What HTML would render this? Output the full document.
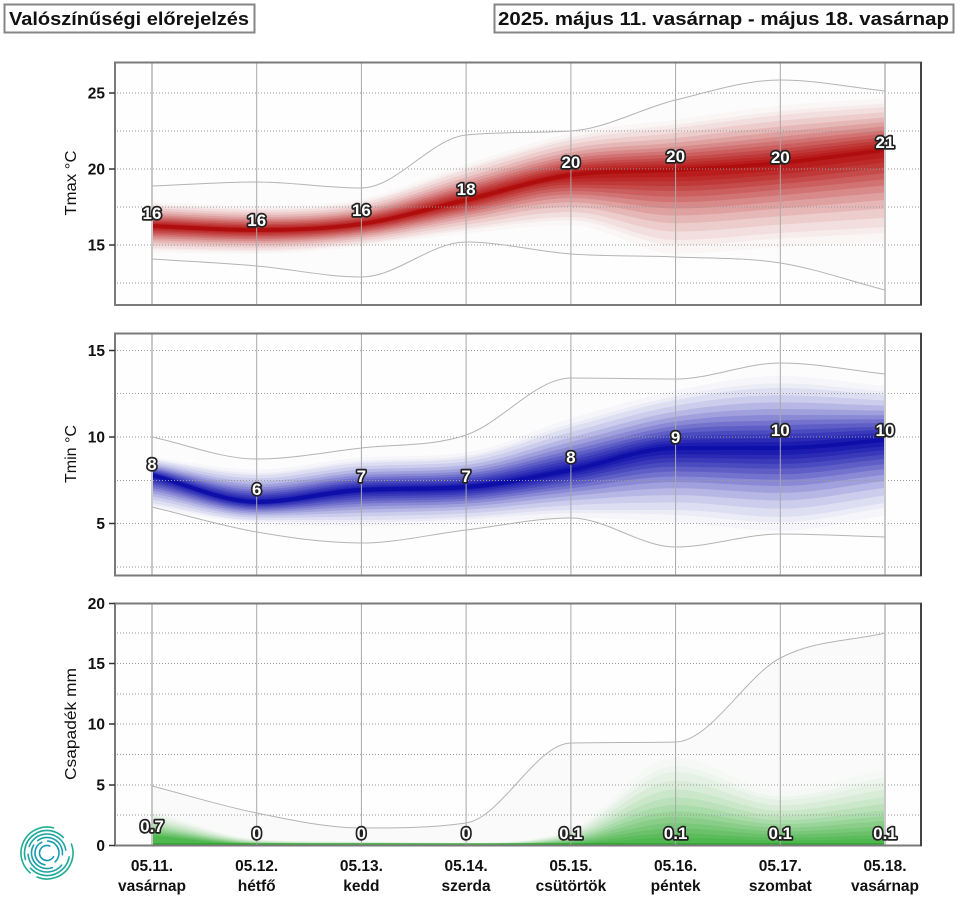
<!DOCTYPE html>
<html><head><meta charset="utf-8"><style>
html,body{margin:0;padding:0;background:#fff;}
svg{display:block;}
text{font-family:"Liberation Sans",Arial,sans-serif;}
.tl{font-size:15.5px;font-weight:bold;fill:#111;text-anchor:end;}
.ax{font-size:16px;fill:#111;text-anchor:middle;}
.xl{font-size:15.5px;font-weight:bold;fill:#111;text-anchor:middle;}
.dl{font-size:17px;font-weight:bold;fill:#fff;stroke:#222;stroke-width:3.4px;paint-order:stroke;stroke-linejoin:round;text-anchor:middle;}
.grid{stroke:#9a9a9a;stroke-width:1;stroke-dasharray:1 2;}
.env{fill:none;stroke:#b4b4b4;stroke-width:1;}
</style></head><body>
<svg id="s" width="960" height="900" viewBox="0 0 960 900" xmlns="http://www.w3.org/2000/svg">
<defs>
<clipPath id="c1"><rect x="116" y="63" width="805" height="242"/></clipPath>
<clipPath id="c2"><rect x="116" y="334" width="805" height="241"/></clipPath>
<clipPath id="c3"><rect x="116" y="604" width="805" height="241"/></clipPath>
</defs>

<!-- titles -->
<rect x="4.5" y="4.5" width="250" height="28" fill="#fff" stroke="#858585" stroke-width="2"/>
<text x="9" y="25" font-size="18" font-weight="bold" fill="#111" textLength="240" lengthAdjust="spacingAndGlyphs">Valószínűségi előrejelzés</text>
<rect x="494.5" y="4.5" width="459" height="28" fill="#fff" stroke="#858585" stroke-width="2"/>
<text x="498" y="25" font-size="18" font-weight="bold" fill="#111" textLength="451" lengthAdjust="spacingAndGlyphs">2025. május 11. vasárnap - május 18. vasárnap</text>

<!-- panel backgrounds -->
<rect x="115" y="62" width="806" height="243" fill="#fefefe"/>
<rect x="115" y="333" width="806" height="243" fill="#fefefe"/>
<rect x="115" y="603" width="806" height="243" fill="#fefefe"/>

<g id="g1" clip-path="url(#c1)"></g>
<g id="g2" clip-path="url(#c2)"></g>
<g id="g3" clip-path="url(#c3)"></g>

<!-- grid lines -->
<g>
<line class="grid" x1="117" x2="920" y1="93" y2="93"/>
<line class="grid" x1="117" x2="920" y1="131" y2="131"/>
<line class="grid" x1="117" x2="920" y1="169" y2="169"/>
<line class="grid" x1="117" x2="920" y1="207" y2="207"/>
<line class="grid" x1="117" x2="920" y1="245" y2="245"/>
<line class="grid" x1="117" x2="920" y1="283" y2="283"/>

<line class="grid" x1="117" x2="920" y1="350.5" y2="350.5"/>
<line class="grid" x1="117" x2="920" y1="393.5" y2="393.5"/>
<line class="grid" x1="117" x2="920" y1="437" y2="437"/>
<line class="grid" x1="117" x2="920" y1="480.5" y2="480.5"/>
<line class="grid" x1="117" x2="920" y1="523.5" y2="523.5"/>
<line class="grid" x1="117" x2="920" y1="567" y2="567"/>

<line class="grid" x1="117" x2="920" y1="633" y2="633"/>
<line class="grid" x1="117" x2="920" y1="663.5" y2="663.5"/>
<line class="grid" x1="117" x2="920" y1="694" y2="694"/>
<line class="grid" x1="117" x2="920" y1="724" y2="724"/>
<line class="grid" x1="117" x2="920" y1="754.5" y2="754.5"/>
<line class="grid" x1="117" x2="920" y1="785" y2="785"/>
<line class="grid" x1="117" x2="920" y1="815" y2="815"/>
</g>

<g id="vg"></g>
<g id="env"></g>

<!-- frames -->
<rect x="115" y="62.5" width="806" height="242.5" fill="none" stroke="#7a7a7a" stroke-width="2"/>
<rect x="115" y="333.5" width="806" height="242" fill="none" stroke="#7a7a7a" stroke-width="2"/>
<rect x="115" y="603.5" width="806" height="242" fill="none" stroke="#7a7a7a" stroke-width="2"/>
<line x1="921" x2="921" y1="62" y2="305" stroke="#333" stroke-width="1.5"/>
<line x1="921" x2="921" y1="333" y2="576" stroke="#333" stroke-width="1.5"/>
<line x1="921" x2="921" y1="603" y2="846" stroke="#333" stroke-width="1.5"/>

<!-- ticks -->
<g stroke="#333" stroke-width="1.5">
<line x1="109" x2="115" y1="93" y2="93"/><line x1="109" x2="115" y1="169" y2="169"/><line x1="109" x2="115" y1="245" y2="245"/>
<line x1="109" x2="115" y1="350.5" y2="350.5"/><line x1="109" x2="115" y1="437" y2="437"/><line x1="109" x2="115" y1="523.5" y2="523.5"/>
<line x1="109" x2="115" y1="603.5" y2="603.5"/><line x1="109" x2="115" y1="663.5" y2="663.5"/><line x1="109" x2="115" y1="724" y2="724"/><line x1="109" x2="115" y1="785" y2="785"/><line x1="109" x2="115" y1="845.5" y2="845.5"/>
</g>
<g>
<text class="tl" x="105" y="98.5">25</text>
<text class="tl" x="105" y="174.5">20</text>
<text class="tl" x="105" y="250.5">15</text>
<text class="tl" x="105" y="356">15</text>
<text class="tl" x="105" y="442.5">10</text>
<text class="tl" x="105" y="529">5</text>
<text class="tl" x="105" y="609">20</text>
<text class="tl" x="105" y="669">15</text>
<text class="tl" x="105" y="729.5">10</text>
<text class="tl" x="105" y="790.5">5</text>
<text class="tl" x="105" y="851">0</text>
</g>

<!-- axis titles -->
<text class="ax" transform="translate(76,183) rotate(-90)" textLength="65" lengthAdjust="spacingAndGlyphs">Tmax °C</text>
<text class="ax" transform="translate(76,454) rotate(-90)" textLength="58" lengthAdjust="spacingAndGlyphs">Tmin °C</text>
<text class="ax" transform="translate(76,724) rotate(-90)" textLength="112" lengthAdjust="spacingAndGlyphs">Csapadék mm</text>

<!-- data labels -->
<g>
<text class="dl" x="152" y="219">16</text>
<text class="dl" x="256.7" y="226">16</text>
<text class="dl" x="361.4" y="216">16</text>
<text class="dl" x="466.1" y="195">18</text>
<text class="dl" x="570.9" y="168">20</text>
<text class="dl" x="675.6" y="162">20</text>
<text class="dl" x="780.3" y="163">20</text>
<text class="dl" x="885" y="148">21</text>

<text class="dl" x="152" y="470">8</text>
<text class="dl" x="256.7" y="495">6</text>
<text class="dl" x="361.4" y="482">7</text>
<text class="dl" x="466.1" y="482">7</text>
<text class="dl" x="570.9" y="463">8</text>
<text class="dl" x="675.6" y="443">9</text>
<text class="dl" x="780.3" y="436">10</text>
<text class="dl" x="885" y="436">10</text>

<text class="dl" x="152" y="832">0.7</text>
<text class="dl" x="256.7" y="839">0</text>
<text class="dl" x="361.4" y="839">0</text>
<text class="dl" x="466.1" y="839">0</text>
<text class="dl" x="570.9" y="839">0.1</text>
<text class="dl" x="675.6" y="839">0.1</text>
<text class="dl" x="780.3" y="839">0.1</text>
<text class="dl" x="885" y="839">0.1</text>
</g>

<!-- x labels -->
<g>
<text class="xl" x="152" y="871">05.11.</text><text class="xl" x="152" y="891">vasárnap</text>
<text class="xl" x="256.7" y="871">05.12.</text><text class="xl" x="256.7" y="891">hétfő</text>
<text class="xl" x="361.4" y="871">05.13.</text><text class="xl" x="361.4" y="891">kedd</text>
<text class="xl" x="466.1" y="871">05.14.</text><text class="xl" x="466.1" y="891">szerda</text>
<text class="xl" x="570.9" y="871">05.15.</text><text class="xl" x="570.9" y="891">csütörtök</text>
<text class="xl" x="675.6" y="871">05.16.</text><text class="xl" x="675.6" y="891">péntek</text>
<text class="xl" x="780.3" y="871">05.17.</text><text class="xl" x="780.3" y="891">szombat</text>
<text class="xl" x="885" y="871">05.18.</text><text class="xl" x="885" y="891">vasárnap</text>
</g>

<!-- logo -->
<g fill="none" stroke-width="1.6" stroke-linecap="round">
<circle cx="47" cy="853" r="26" stroke="#1fae92" stroke-dasharray="60 8 70 30" transform="rotate(-20 47 853)"/>
<circle cx="47" cy="853" r="22.5" stroke="#1ea89c" stroke-dasharray="50 10 60 22" transform="rotate(10 47 853)"/>
<circle cx="47" cy="853" r="19" stroke="#1ca3a4" stroke-dasharray="45 8 50 16" transform="rotate(40 47 853)"/>
<circle cx="47" cy="853" r="15.5" stroke="#1a9eaa" stroke-dasharray="38 6 36 18" transform="rotate(70 47 853)"/>
<circle cx="47" cy="853" r="12" stroke="#189ab0" stroke-dasharray="30 6 28 12" transform="rotate(100 47 853)"/>
<circle cx="47" cy="853" r="7.5" stroke="#1898b2" stroke-dasharray="34 13" transform="rotate(30 47 853)"/>
</g>
</svg>
<script>
(function(){
var NS="http://www.w3.org/2000/svg";
var X=[152,256.7,361.4,466.1,570.9,675.6,780.3,885];
function tang(xs,ys){var n=xs.length,d=[],m=[],i;for(i=0;i<n-1;i++)d[i]=(ys[i+1]-ys[i])/(xs[i+1]-xs[i]);
m[0]=d[0];m[n-1]=d[n-2];for(i=1;i<n-1;i++)m[i]=(d[i-1]*d[i]<=0)?0:(d[i-1]+d[i])/2;
for(i=0;i<n-1;i++){if(d[i]===0){m[i]=0;m[i+1]=0;}else{var a=m[i]/d[i],b=m[i+1]/d[i],s=a*a+b*b;if(s>9){var t=3/Math.sqrt(s);m[i]=t*a*d[i];m[i+1]=t*b*d[i];}}}return m;}
function segs(xs,ys){var m=tang(xs,ys),s="",i;for(i=0;i<xs.length-1;i++){var dx=xs[i+1]-xs[i];s+=" C"+(xs[i]+dx/3).toFixed(2)+","+(ys[i]+m[i]*dx/3).toFixed(2)+" "+(xs[i+1]-dx/3).toFixed(2)+","+(ys[i+1]-m[i+1]*dx/3).toFixed(2)+" "+xs[i+1]+","+ys[i+1].toFixed(2);}return s;}
function line(xs,ys){return "M"+xs[0]+","+ys[0]+segs(xs,ys);}
function band(xs,up,lo){var rx=xs.slice().reverse(),rl=lo.slice().reverse();return "M"+xs[0]+","+up[0]+segs(xs,up)+" L"+rx[0]+","+rl[0]+segs(rx,rl)+"Z";}
function P(g,d,attrs){var p=document.createElementNS(NS,"path");p.setAttribute("d",d);for(var k in attrs)p.setAttribute(k,attrs[k]);g.appendChild(p);return p;}
var F=[1.2,1.08,1,0.88,0.76,0.65,0.55,0.46,0.38,0.3,0.23,0.16,0.1];
var O=[0.025,0.04,0.06,0.08,0.1,0.12,0.14,0.16,0.18,0.2,0.23,0.26,0.32];
function layers(g,med,hi,lo,col,loFixed,sc){
 sc=sc||1;
 for(var k=0;k<F.length;k++){var f=F[k],u=[],l=[];
  for(var i=0;i<med.length;i++){u.push(med[i]-(med[i]-hi[i])*f);l.push(loFixed!=null?loFixed:med[i]+(lo[i]-med[i])*f);}
  P(g,band(X,u,l),{fill:col,"fill-opacity":O[k]*sc});}
}
// Panel 1
var g1=document.getElementById("g1");
var mx1=[186,182,188,135,131,100,80,91], mn1=[259,266,277,242,254,257,263,290];
P(g1,band(X,mx1,mn1),{fill:"#fcfcfc"});
var md1=[226,230,224,200,175,170,163,150], hi1=[206,210,203,170,140,128,115,107], lo1=[248,250,243,228,217,240,233,227];
layers(g1,md1,hi1,lo1,"#b00000");
P(g1,line(X,md1),{fill:"none",stroke:"#a80000","stroke-width":4,"stroke-opacity":0.5});
// Panel 2
var g2=document.getElementById("g2");
var mx2=[437,459,448,435,378,379,363,374], mn2=[507,532,543,530,518,547,534,537];
P(g2,band(X,mx2,mn2),{fill:"#fcfcfc"});
var md2=[475,502,490,487,470,448,448,440], hi2=[460,475,463,458,427,400,388,395], lo2=[503,520,520,517,510,510,517,503];
layers(g2,md2,hi2,lo2,"#0000a8");
P(g2,line(X,md2),{fill:"none",stroke:"#0000a0","stroke-width":4,"stroke-opacity":0.5});
// Panel 3
var g3=document.getElementById("g3");
var mx3=[786,813,828,823,743,742,658,633];
var base=[846,846,846,846,846,846,846,846];
P(g3,band(X,mx3,base),{fill:"#f9faf9"});
var md3=[838,845,845,845,845,845,845,845], hi3=[815,840,842,843,832,772,800,782];
layers(g3,md3,hi3,null,"#22a822",846,0.75);
P(g3,"M152,844 L885,844",{fill:"none",stroke:"#22a022","stroke-width":2,"stroke-opacity":0.6});
// envelope lines
var ge=document.getElementById("env");
[mx1,mn1,mx2,mn2,mx3].forEach(function(a){P(ge,line(X,a),{"class":"env"});});
// vertical lines
var vg=document.getElementById("vg");
[[63,305],[334,576],[604,846]].forEach(function(r){
 X.forEach(function(x,i){var l=document.createElementNS(NS,"line");l.setAttribute("x1",x);l.setAttribute("x2",x);l.setAttribute("y1",r[0]);l.setAttribute("y2",r[1]);
 if(i===0||i===7){l.setAttribute("stroke","#c8c8c8");l.setAttribute("stroke-width","2");}else{l.setAttribute("stroke","#a8a8a8");l.setAttribute("stroke-width","1");}
 vg.appendChild(l);});
});
})();
</script>
</body></html>
